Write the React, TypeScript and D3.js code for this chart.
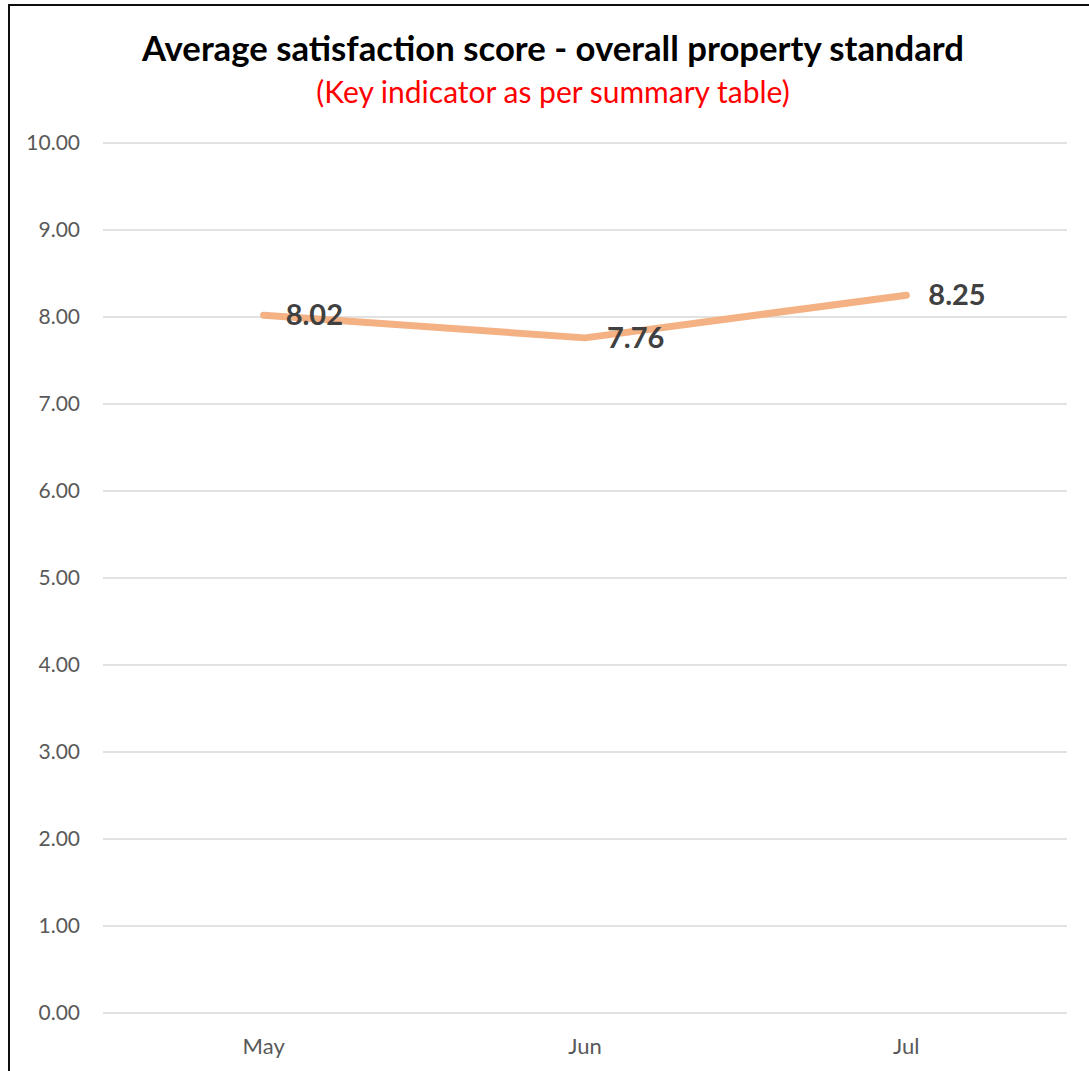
import React, { useEffect, useRef } from 'react';
import * as d3 from 'd3';

const months = ['May', 'Jun', 'Jul'];
const scores = [8.02, 7.76, 8.25];
const yTicks = [0, 1, 2, 3, 4, 5, 6, 7, 8, 9, 10];

const title = 'Average satisfaction score - overall property standard';
const subtitle = '(Key indicator as per summary table)';

const W = 1089;
const H = 1071;
const FONT = "Lato, 'Open Sans', sans-serif";

export default function App() {
  const svgRef = useRef<SVGSVGElement>(null);

  useEffect(() => {
    document.body.style.margin = '0';
    if (!svgRef.current) return;
    const svg = d3.select(svgRef.current);
    svg.selectAll('*').remove();

    svg.append('rect').attr('width', W).attr('height', H).attr('fill', '#fff');

    // chart frame (runs off the right/bottom edge like the original)
    svg.append('rect')
      .attr('x', 9).attr('y', 5)
      .attr('width', W + 20).attr('height', H + 20)
      .attr('fill', 'none')
      .attr('stroke', '#0d0d0d')
      .attr('stroke-width', 2);

    const x = d3.scaleBand<string>().domain(months).range([103, 1067]);
    const y = d3.scaleLinear().domain([0, 10]).range([1013, 143]);

    // gridlines
    svg.append('g')
      .selectAll('line')
      .data(yTicks)
      .enter()
      .append('line')
      .attr('x1', 103).attr('x2', 1067)
      .attr('y1', d => y(d)).attr('y2', d => y(d))
      .attr('stroke', '#d9d9d9')
      .attr('stroke-width', 1.5);

    // y tick labels
    svg.append('g')
      .selectAll('text')
      .data(yTicks)
      .enter()
      .append('text')
      .attr('x', 80)
      .attr('y', d => y(d))
      .attr('dy', '0.35em')
      .attr('text-anchor', 'end')
      .attr('font-family', FONT)
      .attr('font-size', 21)
      .attr('fill', '#595959')
      .text(d => d3.format('.2f')(d));

    // x labels
    svg.append('g')
      .selectAll('text')
      .data(months)
      .enter()
      .append('text')
      .attr('x', d => (x(d) || 0) + x.bandwidth() / 2)
      .attr('y', 1046)
      .attr('dy', '0.35em')
      .attr('text-anchor', 'middle')
      .attr('font-family', FONT)
      .attr('font-size', 22)
      .attr('fill', '#595959')
      .text(d => d);

    const pts = months.map((m, i) => ({ m, v: scores[i] }));
    const line = d3.line<{ m: string; v: number }>()
      .x(d => (x(d.m) || 0) + x.bandwidth() / 2)
      .y(d => y(d.v));

    svg.append('path')
      .datum(pts)
      .attr('d', line)
      .attr('fill', 'none')
      .attr('stroke', '#f4b183')
      .attr('stroke-width', 7)
      .attr('stroke-linecap', 'round')
      .attr('stroke-linejoin', 'round');

    // data labels, to the right of each point
    svg.append('g')
      .selectAll('text')
      .data(pts)
      .enter()
      .append('text')
      .attr('x', d => (x(d.m) || 0) + x.bandwidth() / 2 + 22)
      .attr('y', d => y(d.v))
      .attr('dy', '0.35em')
      .attr('font-family', FONT)
      .attr('font-size', 29)
      .attr('font-weight', 'bold')
      .attr('fill', '#404040')
      .text(d => d3.format('.2f')(d.v));

    svg.append('text')
      .attr('x', 553).attr('y', 49)
      .attr('dy', '0.35em')
      .attr('text-anchor', 'middle')
      .attr('font-family', FONT)
      .attr('font-size', 34.7)
      .attr('font-weight', 'bold')
      .attr('fill', '#000')
      .text(title);

    svg.append('text')
      .attr('x', 553).attr('y', 92)
      .attr('dy', '0.35em')
      .attr('text-anchor', 'middle')
      .attr('font-family', FONT)
      .attr('font-size', 30)
      .attr('fill', '#ff0000')
      .text(subtitle);
  }, []);

  return <svg ref={svgRef} width={W} height={H} style={{ display: 'block' }} />;
}
